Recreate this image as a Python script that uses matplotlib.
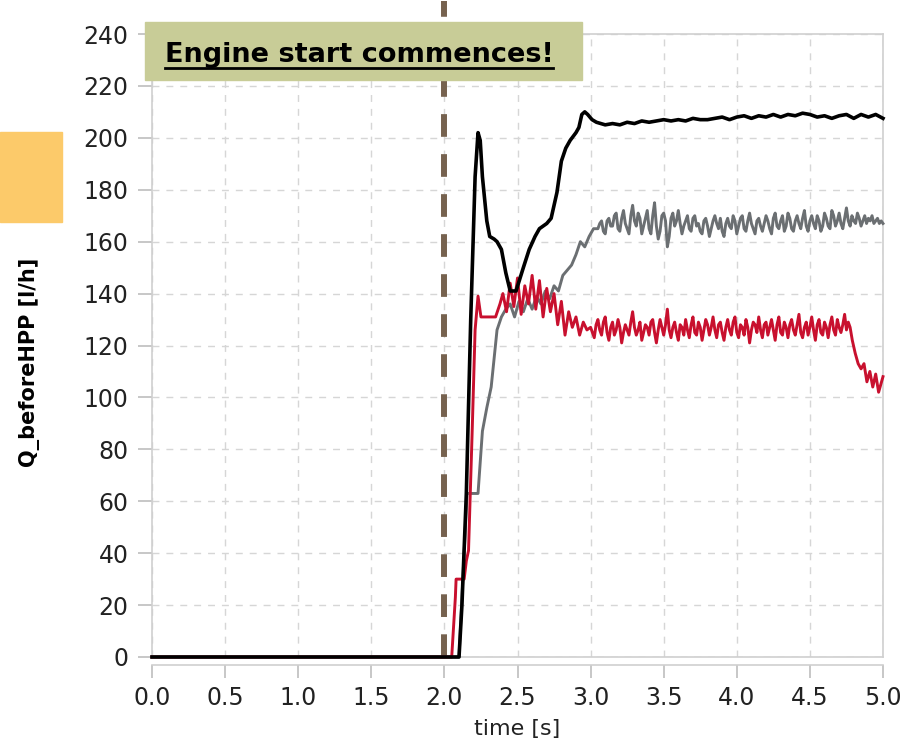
import numpy as np
import matplotlib.pyplot as plt
from matplotlib.patches import Rectangle
from matplotlib.lines import Line2D

# 读图得到的数据 (时间 s, 流量 l/h)
black_t = [0.0, 2.10, 2.12, 2.15, 2.18, 2.21, 2.23, 2.245, 2.26, 2.29, 2.31, 2.34, 2.36, 2.39,
           2.42, 2.45, 2.49, 2.54, 2.58, 2.62, 2.65, 2.70, 2.73, 2.77, 2.80, 2.83, 2.86, 2.90,
           2.92, 2.94, 2.96, 2.98, 3.01, 3.04,
           3.10, 3.15, 3.20, 3.25, 3.30, 3.35, 3.40, 3.45, 3.50, 3.55, 3.60, 3.65, 3.70, 3.75,
           3.80, 3.85, 3.90, 3.95, 4.00, 4.05, 4.10, 4.15, 4.20, 4.25, 4.30, 4.35, 4.40, 4.45,
           4.50, 4.55, 4.60, 4.65, 4.70, 4.75, 4.80, 4.85, 4.90, 4.95, 5.00]
black_q = [0, 0, 20, 63, 130, 185, 202, 199, 185, 168, 162, 161, 160, 157,
           148, 141, 141, 150, 157, 162, 165, 167, 169, 179, 191, 196, 199, 202,
           204, 209, 210, 209, 207, 206,
           205, 205.5, 205, 206, 205.5, 206.5, 206, 206.5, 207, 206.5, 207, 206.5, 207.5, 207,
           207, 207.5, 208, 207, 208, 208.5, 207.5, 208.5, 208, 209, 208, 209, 208.5, 209.5,
           209, 208, 208.5, 207.5, 208.5, 209, 207.5, 209, 208, 209, 207.5]

# 灰线: 上升段 + 稳态段 (稳态段每 0.0125 s 一个点)
grey_rise_t = [0.0, 2.10, 2.155, 2.23, 2.26, 2.29, 2.32, 2.36, 2.39, 2.42,
               2.45, 2.48, 2.51, 2.54, 2.57, 2.60, 2.63, 2.66, 2.69, 2.72, 2.75, 2.78, 2.81,
               2.84, 2.87, 2.90, 2.93, 2.96, 2.99, 3.02]
grey_rise_q = [0, 0, 63, 63, 87, 96, 104, 126, 131, 134,
               136, 131, 137, 133, 138, 134, 139, 136, 141, 138, 143, 141, 147,
               149, 151, 155, 160, 158, 162, 165]
grey_steady_q = [165, 167, 168, 164, 163, 168, 169, 166, 166, 170,
                 171, 165, 164, 169, 172, 167, 165, 163, 170, 174,
                 168, 166, 171, 169, 163, 166, 169, 172, 165, 163,
                 170, 175, 166, 161, 164, 170, 171, 168, 158, 162,
                 169, 171, 166, 168, 172, 167, 163, 166, 168, 170,
                 165, 164, 169, 170, 166, 167, 164, 163, 168, 169,
                 166, 162, 165, 168, 170, 167, 165, 169, 164, 162,
                 167, 169, 166, 165, 170, 168, 163, 166, 169, 170,
                 165, 164, 168, 171, 167, 165, 163, 168, 169, 166,
                 164, 167, 170, 168, 165, 163, 169, 171, 166, 165,
                 168, 170, 164, 166, 171, 169, 165, 164, 168, 170,
                 167, 165, 169, 172, 166, 164, 168, 170, 167, 165,
                 170, 168, 164, 166, 171, 169, 166, 165, 172, 170,
                 166, 168, 171, 167, 165, 169, 173, 168, 166, 170,
                 168, 167, 171, 169, 166, 168, 170, 167,
                 169, 168, 170, 167, 168, 169, 167, 168, 167]
grey_steady_t = np.round(3.05 + 0.0125 * np.arange(len(grey_steady_q)), 4)

# 红线: 上升段 + 波动段 + 稳态段 + 末尾下降段
red_rise_t = [0.0, 2.05, 2.075, 2.08, 2.135, 2.15, 2.165, 2.19, 2.21, 2.23, 2.25, 2.30, 2.35,
              2.38, 2.400, 2.425, 2.450, 2.475, 2.500, 2.525, 2.550, 2.575, 2.600, 2.625,
              2.650, 2.675, 2.700, 2.725, 2.750, 2.775, 2.800, 2.825, 2.850, 2.875, 2.900,
              2.925, 2.950, 2.975]
red_rise_q = [0, 0, 23, 30, 30, 37, 41, 87, 126, 139, 131, 131, 131,
              136, 140, 133, 144, 135, 146, 132, 143, 136, 147, 134,
              145, 131, 142, 133, 140, 128, 137, 124, 133, 127, 131,
              124, 129, 126]
red_steady_q = [127, 125, 123, 128, 130, 126, 124, 129, 131, 125,
                122, 127, 129, 124, 126, 130, 127, 121, 125, 128,
                126, 124, 129, 133, 127, 124, 126, 129, 122, 125,
                128, 127, 124, 129, 130, 125, 121, 126, 130, 127,
                124, 128, 134, 126, 123, 127, 129, 125, 122, 128,
                127, 124, 130, 126, 123, 128, 131, 125, 124, 129,
                127, 122, 126, 130, 128, 124, 127, 131, 126, 123,
                128, 129, 125, 122, 127, 130, 126, 124, 129, 131,
                125, 123, 128, 127, 124, 130, 127, 121, 126, 129,
                128, 125, 131, 126, 123, 128, 129, 124, 127, 130,
                126, 122, 128, 131, 125, 124, 129, 127, 123, 128,
                130, 126, 124, 128, 132, 125, 123, 127, 129, 124,
                127, 131, 126, 122, 128, 130, 125, 124, 129, 127,
                123, 128, 131, 126, 124, 130, 127, 125, 128, 132,
                126, 129, 127]
red_steady_t = np.round(3.0 + 0.0125 * np.arange(len(red_steady_q)), 4)
red_drop_t = [4.790, 4.810, 4.830, 4.850, 4.870, 4.890, 4.910, 4.930, 4.950, 4.970, 5.000]
red_drop_q = [122, 117, 113, 111, 113, 106, 110, 104, 109, 102, 108]

grey_t = np.concatenate([grey_rise_t, grey_steady_t])
grey_q = np.concatenate([grey_rise_q, grey_steady_q])
red_t = np.concatenate([red_rise_t, red_steady_t, red_drop_t])
red_q = np.concatenate([red_rise_q, red_steady_q, red_drop_q])

xticks = np.arange(0, 5.01, 0.5)
yticks = np.arange(0, 241, 20)

frame_c = '#cfcfcf'

fig = plt.figure(figsize=(9.16, 7.4), dpi=100)
ax = fig.add_axes([152/916, 83/740, 731/916, 623/740])

ax.plot(grey_t, grey_q, color='#6b6f72', lw=2.1, clip_on=False, zorder=3)
ax.plot(red_t, red_q, color='#c8102e', lw=2.1, clip_on=False, zorder=4)
ax.plot(black_t, black_q, color='black', lw=2.6, clip_on=False, zorder=5)

# 发动机启动时刻的竖虚线
ax.axvline(2.0, ymin=0, ymax=1.053, color='#76624f', lw=4.3, dashes=(3.8, 2.9),
           clip_on=False, zorder=2)

ax.set_xlim(0, 5)
ax.set_ylim(0, 240)
ax.set_xticks(xticks)
ax.set_xticklabels([f'{v:.1f}' for v in xticks])
ax.set_yticks(yticks)
ax.grid(True, color='#d6d6d6', linestyle=(0, (5, 5)), lw=1)
ax.set_axisbelow(True)

for s in ax.spines.values():
    s.set_color(frame_c)
    s.set_linewidth(1.2)
ax.spines['bottom'].set_position(('outward', 6))
ax.axhline(0, color=frame_c, lw=1.2, zorder=1, clip_on=False)
ax.tick_params(axis='both', labelsize=17, colors='#222222', length=9, width=1.2,
               color='#bdbdbd', pad=6)
ax.tick_params(axis='y', pad=7, length=10)

ax.set_xlabel('time [s]', fontsize=16, color='#222222', labelpad=6)

# 左侧纵轴标题和橙色色块
fig.text(30/916, 1 - 362/740, 'Q_beforeHPP [l/h]', rotation=90, fontsize=15,
         fontweight='bold', ha='center', va='center')
fig.add_artist(Rectangle((0, 1 - 222/740), 62/916, 90/740, transform=fig.transFigure,
                         color='#fcca6a', zorder=1))

# 顶部提示框
fig.add_artist(Rectangle((145/916, 1 - 80/740), (582-145)/916, 58/740,
                         transform=fig.transFigure, color='#c8cc97', zorder=6))
fig.text(359/916, 1 - 62/740, 'Engine start commences!', fontsize=19.5, fontweight='bold',
         ha='center', va='baseline', zorder=7)
fig.add_artist(Line2D([165/916, 553/916], [1 - 68/740, 1 - 68/740], transform=fig.transFigure,
                      color='black', lw=2, zorder=7))

fig.savefig('out.png', dpi=100)
